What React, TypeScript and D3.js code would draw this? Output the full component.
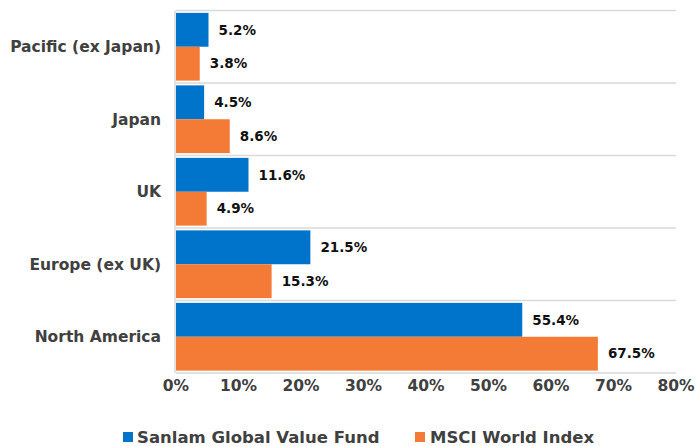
import React from "react";
import * as d3 from "d3";

const categories = ["Pacific (ex Japan)", "Japan", "UK", "Europe (ex UK)", "North America"];
const fundValues = [5.2, 4.5, 11.6, 21.5, 55.4];
const indexValues = [3.8, 8.6, 4.9, 15.3, 67.5];
const seriesNames = ["Sanlam Global Value Fund", "MSCI World Index"];
const xTicks = [0, 10, 20, 30, 40, 50, 60, 70, 80];

const W = 696;
const H = 446;
const margin = { left: 176, right: 20, top: 10.5, bottom: 73 };
const colors = ["#0074CB", "#F47B36"];
const font = "'DejaVu Sans', sans-serif";

export default function App() {
  const x = d3.scaleLinear().domain([0, 80]).range([margin.left, 676]);
  const y = d3.scaleBand().domain(categories).range([margin.top, 373]).paddingInner(0).paddingOuter(0);
  const inner = d3.scaleBand().domain(["0", "1"]).range([0, y.bandwidth()]).paddingOuter(0.07).paddingInner(0);
  const series = [fundValues, indexValues];

  return (
    <svg width={W} height={H} style={{ position: "absolute", left: 0, top: 0 }}>
      <rect width={W} height={H} fill="#fff" />
      {categories.map((c, i) => (
        <line key={"g" + i} x1={x(0)} x2={x(80)} y1={y(c)!} y2={y(c)!} stroke="#d9d9d9" strokeWidth={1.5} />
      ))}
      <line x1={x(0)} x2={x(80)} y1={373} y2={373} stroke="#d9d9d9" strokeWidth={1.5} />
      <line x1={x(0) - 1} x2={x(0) - 1} y1={margin.top} y2={373} stroke="#d9d9d9" strokeWidth={1.5} />
      {categories.map((c, i) => (
        <g key={"c" + i}>
          {series.map((s, k) => {
            const by = y(c)! + inner(String(k))!;
            return (
              <g key={k}>
                <rect x={x(0)} y={by} width={x(s[i]) - x(0)} height={inner.bandwidth()} fill={colors[k]} />
                <text x={x(s[i]) + 10} y={by + inner.bandwidth() / 2} dy="0.35em" fontFamily={font} fontWeight="bold" fontSize={13.5} fill="#111">
                  {s[i].toFixed(1) + "%"}
                </text>
              </g>
            );
          })}
          <text x={161} y={y(c)! + y.bandwidth() / 2} dy="0.35em" textAnchor="end" fontFamily={font} fontWeight="bold" fontSize={15.5} fill="#404040">
            {c}
          </text>
        </g>
      ))}
      {xTicks.map((t) => (
        <text key={t} x={x(t)} y={386} dy="0.35em" textAnchor="middle" fontFamily={font} fontWeight="bold" fontSize={15.5} fill="#404040">
          {t + "%"}
        </text>
      ))}
      <rect x={123} y={432} width={10} height={10} fill={colors[0]} />
      <text x={137} y={437} dy="0.35em" fontFamily={font} fontWeight="bold" fontSize={16.5} fill="#404040">{seriesNames[0]}</text>
      <rect x={415} y={432} width={10} height={10} fill={colors[1]} />
      <text x={430} y={437} dy="0.35em" fontFamily={font} fontWeight="bold" fontSize={16.5} fill="#404040">{seriesNames[1]}</text>
    </svg>
  );
}
